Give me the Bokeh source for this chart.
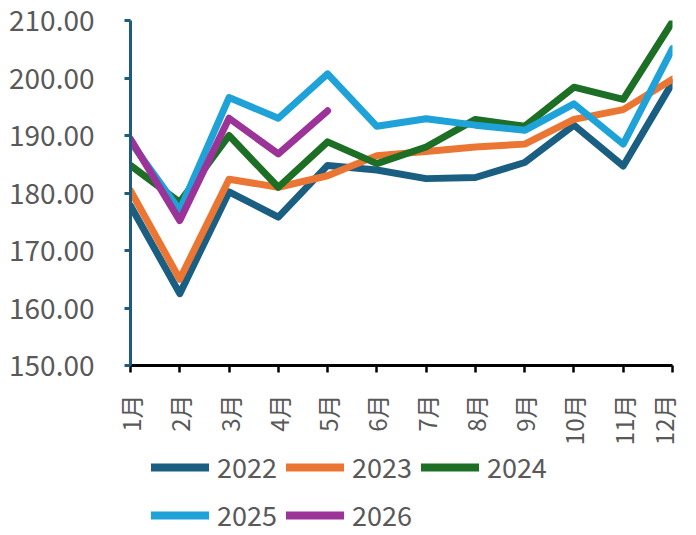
import numpy as np
from bokeh.plotting import figure
from bokeh.layouts import column
from bokeh.models import Range1d, FixedTicker, Legend, LegendItem, NumeralTickFormatter
from bokeh.embed import file_html
from bokeh.resources import INLINE

months = ["1月", "2月", "3月", "4月", "5月", "6月", "7月", "8月", "9月", "10月", "11月", "12月"]
y_ticks = [150, 160, 170, 180, 190, 200, 210]

s2022 = [177.8, 162.5, 180.2, 175.8, 184.8, 184.0, 182.5, 182.7, 185.3, 191.8, 184.7, 199.2]
s2023 = [180.4, 165.0, 182.4, 181.0, 183.0, 186.5, 187.2, 188.0, 188.5, 192.8, 194.5, 199.8]
s2024 = [184.8, 178.4, 190.0, 181.0, 188.9, 185.1, 188.0, 192.8, 191.6, 198.4, 196.3, 209.8]
s2025 = [188.9, 177.0, 196.6, 193.0, 200.7, 191.6, 192.9, 191.8, 190.9, 195.5, 188.5, 205.1]
s2026 = [189.4, 175.2, 193.0, 186.8, 194.3]

series = [
    ("2022", s2022, "#1A5F82"),
    ("2023", s2023, "#EB7634"),
    ("2024", s2024, "#1E6F26"),
    ("2025", s2025, "#1EA2D8"),
    ("2026", s2026, "#9B3399"),
]

x_all = list(range(len(months)))

p = figure(frame_width=542, frame_height=345, output_backend="svg", toolbar_location=None,
           x_range=Range1d(0, len(months) - 1), y_range=Range1d(150, 210),
           min_border_left=130, min_border_right=8, min_border_top=20, min_border_bottom=80)
p.outline_line_color = None
p.xgrid.grid_line_color = None
p.ygrid.grid_line_color = None

# legend-only figure below the chart (its lines lie outside its own range)
lg = figure(width=680, height=89, output_backend="svg", toolbar_location=None,
            x_range=Range1d(0, len(months) - 1), y_range=Range1d(0, 1),
            x_axis_type=None, y_axis_type=None,
            min_border_left=0, min_border_right=0, min_border_top=0, min_border_bottom=0)
lg.outline_line_color = None
lg.xgrid.grid_line_color = None
lg.ygrid.grid_line_color = None

items = []
for name, vals, col in series:
    p.line(x_all[:len(vals)], vals, line_color=col, line_width=7,
           line_join="round", line_cap="round")
    r = lg.line(x_all[:len(vals)], vals, line_color=col, line_width=8, line_cap="round")
    items.append(LegendItem(label=name, renderers=[r]))

# y axis
ya = p.yaxis[0]
ya.ticker = FixedTicker(ticks=y_ticks)
ya.formatter = NumeralTickFormatter(format="0.00")
ya.axis_line_color = "#1D5C7C"
ya.axis_line_width = 3
ya.major_tick_line_color = "#1D5C7C"
ya.major_tick_line_width = 3
ya.major_tick_out = 6
ya.major_tick_in = 0
ya.minor_tick_line_color = None
ya.major_label_text_font = "Noto Sans CJK SC"
ya.major_label_text_font_size = "28px"
ya.major_label_text_color = "#595959"
ya.major_label_standoff = 30

# x axis
xa = p.xaxis[0]
xa.ticker = FixedTicker(ticks=x_all)
xa.major_label_overrides = {i: m for i, m in enumerate(months)}
xa.axis_line_color = "black"
xa.axis_line_width = 3
xa.major_tick_line_color = "black"
xa.major_tick_line_width = 2.5
xa.major_tick_out = 7
xa.major_tick_in = 0
xa.minor_tick_line_color = None
xa.major_label_orientation = np.pi / 2
xa.major_label_text_font = "Noto Sans CJK SC"
xa.major_label_text_font_size = "24px"
xa.major_label_text_color = "#595959"
xa.major_label_standoff = 22

common = dict(orientation="horizontal", glyph_width=58, glyph_height=34, label_height=34,
              label_standoff=8, spacing=9, padding=0, margin=0,
              label_text_font="Noto Sans CJK SC", label_text_font_size="27px",
              label_text_color="#595959", border_line_color=None, background_fill_alpha=0)
legend1 = Legend(items=items[:3], location=(21, 51), **common)
legend2 = Legend(items=items[3:], location=(21, 3), **common)
lg.add_layout(legend1, "center")
lg.add_layout(legend2, "center")

open("out.html", "w").write(file_html(column(p, lg, spacing=0), INLINE))
